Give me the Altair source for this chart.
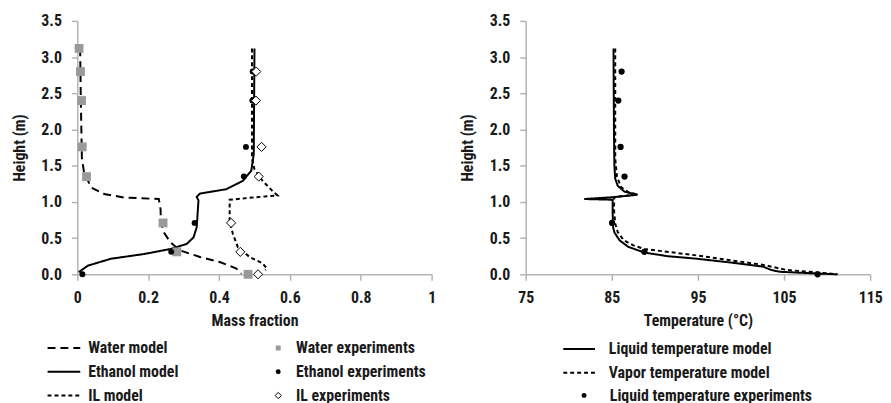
import altair as alt
import pandas as pd

# ---------------- Left panel data (mass fraction vs height) ----------------
water_model_x = [0.008, 0.010, 0.013, 0.019, 0.039, 0.076, 0.132, 0.230, 0.235, 0.236, 0.244, 0.263, 0.290, 0.346, 0.402, 0.449, 0.463]
water_model_h = [3.12, 2.40, 1.60, 1.41, 1.20, 1.11, 1.06, 1.04, 0.90, 0.72, 0.58, 0.44, 0.33, 0.24, 0.17, 0.08, 0.01]

ethanol_model_x = [0.500, 0.499, 0.498, 0.491, 0.467, 0.420, 0.346, 0.337, 0.342, 0.337, 0.328, 0.309, 0.263, 0.188, 0.095, 0.030, 0.004]
ethanol_model_h = [3.12, 2.40, 1.66, 1.43, 1.29, 1.175, 1.115, 1.07, 1.02, 0.65, 0.51, 0.42, 0.35, 0.28, 0.215, 0.12, 0.03]

il_model_x = [0.493, 0.493, 0.493, 0.500, 0.523, 0.551, 0.565, 0.495, 0.430, 0.430, 0.439, 0.453, 0.486, 0.523, 0.535, 0.530]
il_model_h = [3.12, 2.40, 1.60, 1.45, 1.29, 1.15, 1.09, 1.06, 1.03, 0.73, 0.56, 0.375, 0.24, 0.15, 0.08, 0.06]

water_exp_h = [0.0, 0.31, 0.71, 1.35, 1.76, 2.40, 2.80, 3.12]
water_exp_x = [0.482, 0.281, 0.242, 0.026, 0.014, 0.012, 0.009, 0.005]
ethanol_exp_h = [0.0, 0.31, 0.71, 1.35, 1.76, 2.40, 2.80]
ethanol_exp_x = [0.0145, 0.265, 0.331, 0.470, 0.476, 0.494, 0.495]
il_exp_h = [0.0, 0.31, 0.71, 1.35, 1.76, 2.40, 2.80]
il_exp_x = [0.510, 0.460, 0.434, 0.512, 0.520, 0.504, 0.505]

# ---------------- Right panel data (temperature vs height) ----------------
liquid_model_t = [85.2, 85.25, 85.3, 85.4, 85.7, 86.5, 88.0, 85.2, 81.8, 85.1, 85.1, 85.15, 85.3, 85.9, 86.9, 88.8, 91.5, 94.9, 99.0, 102.6, 103.5, 104.5, 108.3, 111.2]
liquid_model_h = [3.12, 2.00, 1.50, 1.32, 1.22, 1.14, 1.10, 1.065, 1.04, 1.03, 0.85, 0.65, 0.58, 0.47, 0.38, 0.30, 0.25, 0.215, 0.16, 0.105, 0.06, 0.035, 0.014, 0.0]

vapor_model_t = [85.4, 85.4, 85.6, 86.1, 87.0, 88.0, 85.3, 85.25, 85.4, 85.7, 86.4, 87.5, 88.8, 94.9, 102.6, 105.3, 108.5, 111.2]
vapor_model_h = [3.12, 1.60, 1.35, 1.20, 1.13, 1.10, 1.07, 0.90, 0.70, 0.58, 0.47, 0.40, 0.35, 0.26, 0.13, 0.06, 0.03, 0.0]

liquid_exp_t = [108.9, 88.78, 85.03, 86.48, 86.02, 85.76, 86.14]
liquid_exp_h = [0.0, 0.31, 0.71, 1.35, 1.76, 2.40, 2.80]

left_line_names = ["Water model", "Ethanol model", "IL model"]
left_exp_names = ["Water experiments", "Ethanol experiments", "IL experiments"]
right_line_names = ["Liquid temperature model", "Vapor temperature model"]
right_exp_names = ["Liquid temperature experiments"]

x_left_ticks = [0, 0.2, 0.4, 0.6, 0.8, 1]
x_right_ticks = [75, 85, 95, 105, 115]
y_ticks = [0, 0.5, 1.0, 1.5, 2.0, 2.5, 3.0, 3.5]


def line_df(name, xs, hs):
    return pd.DataFrame({"x": xs, "h": hs, "series": name, "i": list(range(len(xs)))})


def pt_df(name, xs, hs):
    return pd.DataFrame({"x": xs, "h": hs, "series": name})


left_lines = pd.concat([
    line_df(left_line_names[0], water_model_x, water_model_h),
    line_df(left_line_names[1], ethanol_model_x, ethanol_model_h),
    line_df(left_line_names[2], il_model_x, il_model_h),
])
right_lines = pd.concat([
    line_df(right_line_names[0], liquid_model_t, liquid_model_h),
    line_df(right_line_names[1], vapor_model_t, vapor_model_h),
])

FONT = "Liberation Sans Narrow, Roboto Condensed, DejaVu Sans Condensed, Liberation Sans, sans-serif"
TXT = "#1a1a1a"
AXC = "#b3b3b3"

W_L, W_R, H = 358, 348, 256
ROW = 24
LEG_Y = 322

y_enc = alt.Y("h:Q", scale=alt.Scale(domain=[0, 3.5], nice=False, zero=False),
              axis=alt.Axis(values=y_ticks, format=".1f", title="Height (m)"))


def legend(x, y, offset, **extra):
    return alt.Legend(title=None, orient="none", legendX=x, legendY=y, direction="vertical",
                      labelOffset=offset, clipHeight=17, rowPadding=ROW - 17, padding=0,
                      labelLimit=400, labelFont=FONT, labelFontSize=16,
                      labelFontWeight="bold", labelColor=TXT, **extra)


# ---------- Left panel ----------
x_left = alt.X("x:Q", scale=alt.Scale(domain=[0, 1], nice=False, zero=False),
               axis=alt.Axis(values=x_left_ticks, format="~g", title="Mass fraction"))

l_lines = alt.Chart(left_lines).mark_line(color="black", strokeWidth=2).encode(
    x=x_left, y=y_enc, order="i:Q",
    strokeDash=alt.StrokeDash("series:N",
                              scale=alt.Scale(domain=left_line_names, range=[[8, 5], [1, 0], [4, 3]]),
                              legend=legend(-31, LEG_Y, 7, symbolSize=1089, symbolStrokeColor="black",
                                            symbolStrokeWidth=2)),
)

# water & ethanol experiments: filled markers, legend via shape
pt_specs = [
    (left_exp_names[0], water_exp_x, water_exp_h, "square", "#9a9a9a", 80, 25),
    (left_exp_names[1], ethanol_exp_x, ethanol_exp_h, "circle", "black", 36, 25),
]
l_pts = []
for k, (name, xs, hs, shp, col, sz, lsz) in enumerate(pt_specs):
    l_pts.append(
        alt.Chart(pt_df(name, xs, hs)).mark_point(filled=True, color=col, opacity=1, size=sz).encode(
            x=x_left, y=y_enc,
            shape=alt.Shape("series:N", scale=alt.Scale(domain=[name], range=[shp]),
                            legend=legend(195, LEG_Y + k * ROW, 10, symbolSize=lsz,
                                          symbolFillColor=col, symbolStrokeColor=col)),
        )
    )

# IL experiments: open diamonds, legend via stroke
l_pts.append(
    alt.Chart(pt_df(left_exp_names[2], il_exp_x, il_exp_h)).mark_point(
        filled=False, shape="diamond", fill="white", fillOpacity=1, strokeWidth=1, opacity=1, size=85
    ).encode(
        x=x_left, y=y_enc,
        stroke=alt.Stroke("series:N", scale=alt.Scale(domain=[left_exp_names[2]], range=["black"]),
                          legend=legend(195, LEG_Y + 2 * ROW, 10, symbolType="diamond", symbolSize=40,
                                        symbolStrokeWidth=1, symbolFillColor="white")),
    )
)

left = alt.layer(l_lines, *l_pts).resolve_scale(shape="independent").resolve_legend(
    shape="independent").properties(width=W_L, height=H)

# ---------- Right panel ----------
x_right = alt.X("x:Q", scale=alt.Scale(domain=[75, 115], nice=False, zero=False),
                axis=alt.Axis(values=x_right_ticks, format="d", title="Temperature (°C)"))

r_lines = alt.Chart(right_lines).mark_line(color="black", strokeWidth=2).encode(
    x=x_right, y=y_enc, order="i:Q",
    strokeDash=alt.StrokeDash("series:N",
                              scale=alt.Scale(domain=right_line_names, range=[[1, 0], [4, 3]]),
                              legend=legend(37, LEG_Y + 1, 13, symbolSize=1024, symbolStrokeColor="black",
                                            symbolStrokeWidth=2)),
)

r_pts = alt.Chart(pt_df(right_exp_names[0], liquid_exp_t, liquid_exp_h)).mark_point(
    filled=True, opacity=1, color="black", size=40).encode(
    x=x_right, y=y_enc,
    shape=alt.Shape("series:N", scale=alt.Scale(domain=right_exp_names, range=["circle"]),
                    legend=legend(51, LEG_Y + 2 * ROW, 18, symbolSize=25, symbolFillColor="black",
                                  symbolStrokeColor="black")),
)

right = alt.layer(r_lines, r_pts).properties(width=W_R, height=H)

chart = alt.hconcat(left, right, spacing=23).resolve_scale(
    x="independent", strokeDash="independent", shape="independent", stroke="independent",
).resolve_legend(
    strokeDash="independent", shape="independent", stroke="independent",
).properties(
    padding={"left": 3, "top": 3, "right": 0, "bottom": 0}
).configure_view(stroke=None).configure_axis(
    grid=False, domainColor=AXC, domainWidth=1.5, tickColor=AXC, tickWidth=1.5, tickSize=6,
    labelFont=FONT, labelFontSize=16, labelFontWeight="bold", labelColor=TXT, labelFlush=False,
    titleFont=FONT, titleFontSize=16, titleFontWeight="bold", titleColor=TXT,
).configure_axisX(labelPadding=9, titlePadding=8).configure_axisY(titlePadding=14, labelPadding=10)

chart.save("out.html", embed_options={"renderer": "svg", "actions": False})
